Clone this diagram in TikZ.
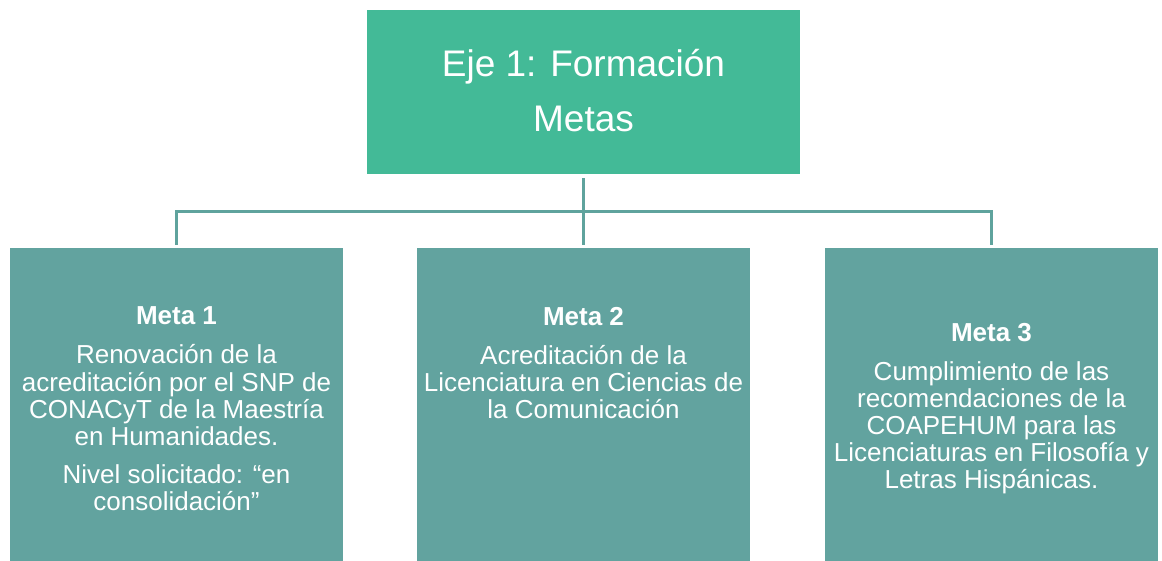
\documentclass[tikz,border=0pt]{standalone}
\usepackage{fontspec}
\setmainfont{Liberation Sans}
\definecolor{topgreen}{HTML}{43BA97}
\definecolor{metateal}{HTML}{62A39F}
\definecolor{linkteal}{HTML}{5FA39D}
\begin{document}
\begin{tikzpicture}[x=1pt,y=1pt,
  topbox/.style={fill=topgreen, draw=none, rectangle, inner sep=0, minimum width=433pt, minimum height=164pt, anchor=north west},
  metabox/.style={fill=metateal, draw=none, rectangle, inner sep=0, minimum width=333pt, minimum height=313pt, anchor=north west},
  toptext/.style={text=white, inner sep=0, anchor=base, font=\fontsize{37}{55}\selectfont},
  metatext/.style={text=white, inner sep=0, anchor=base, font=\fontsize{26}{26.8}\selectfont},
  conn/.style={draw=linkteal, line width=3pt}
]
\useasboundingbox (0,0) rectangle (1162,561);
% boxes
\node[topbox] (top) at (367,551) {};
\node[metabox] (b1) at (10,313) {};
\node[metabox] (b2) at (417,313) {};
\node[metabox] (b3) at (825,313) {};
% texts
\renewcommand{\arraystretch}{1}
\setlength{\tabcolsep}{0pt}
\node[toptext] (ttop) at (583.5,484) {\begin{tabular}[t]{c}Eje 1: Formación\\Metas\end{tabular}};
\node[metatext] (t1) at (176.5,236) {\begin{tabular}[t]{c}\textbf{Meta 1}\\[11.7pt]
Renovación de la\\acreditación por el SNP de\\CONACyT de la Maestría\\en Humanidades.\\[11.7pt]
Nivel solicitado: “en\\consolidación”\end{tabular}};
\node[metatext] (t2) at (583.5,235) {\begin{tabular}[t]{c}\textbf{Meta 2}\\[11.7pt]
Acreditación de la\\Licenciatura en Ciencias de\\la Comunicación\end{tabular}};
\node[metatext] (t3) at (991.5,219) {\begin{tabular}[t]{c}\textbf{Meta 3}\\[11.7pt]
Cumplimiento de las\\recomendaciones de la\\COAPEHUM para las\\Licenciaturas en Filosofía y\\Letras Hispánicas.\end{tabular}};
% connectors
\coordinate (hub) at (583.5,349);
\draw[conn] ([yshift=-4pt]top.south) -- ([yshift=3pt]b2.north);
\draw[conn] ([yshift=3pt]b1.north) |- (hub) -| ([yshift=3pt]b3.north);
\end{tikzpicture}
\end{document}
